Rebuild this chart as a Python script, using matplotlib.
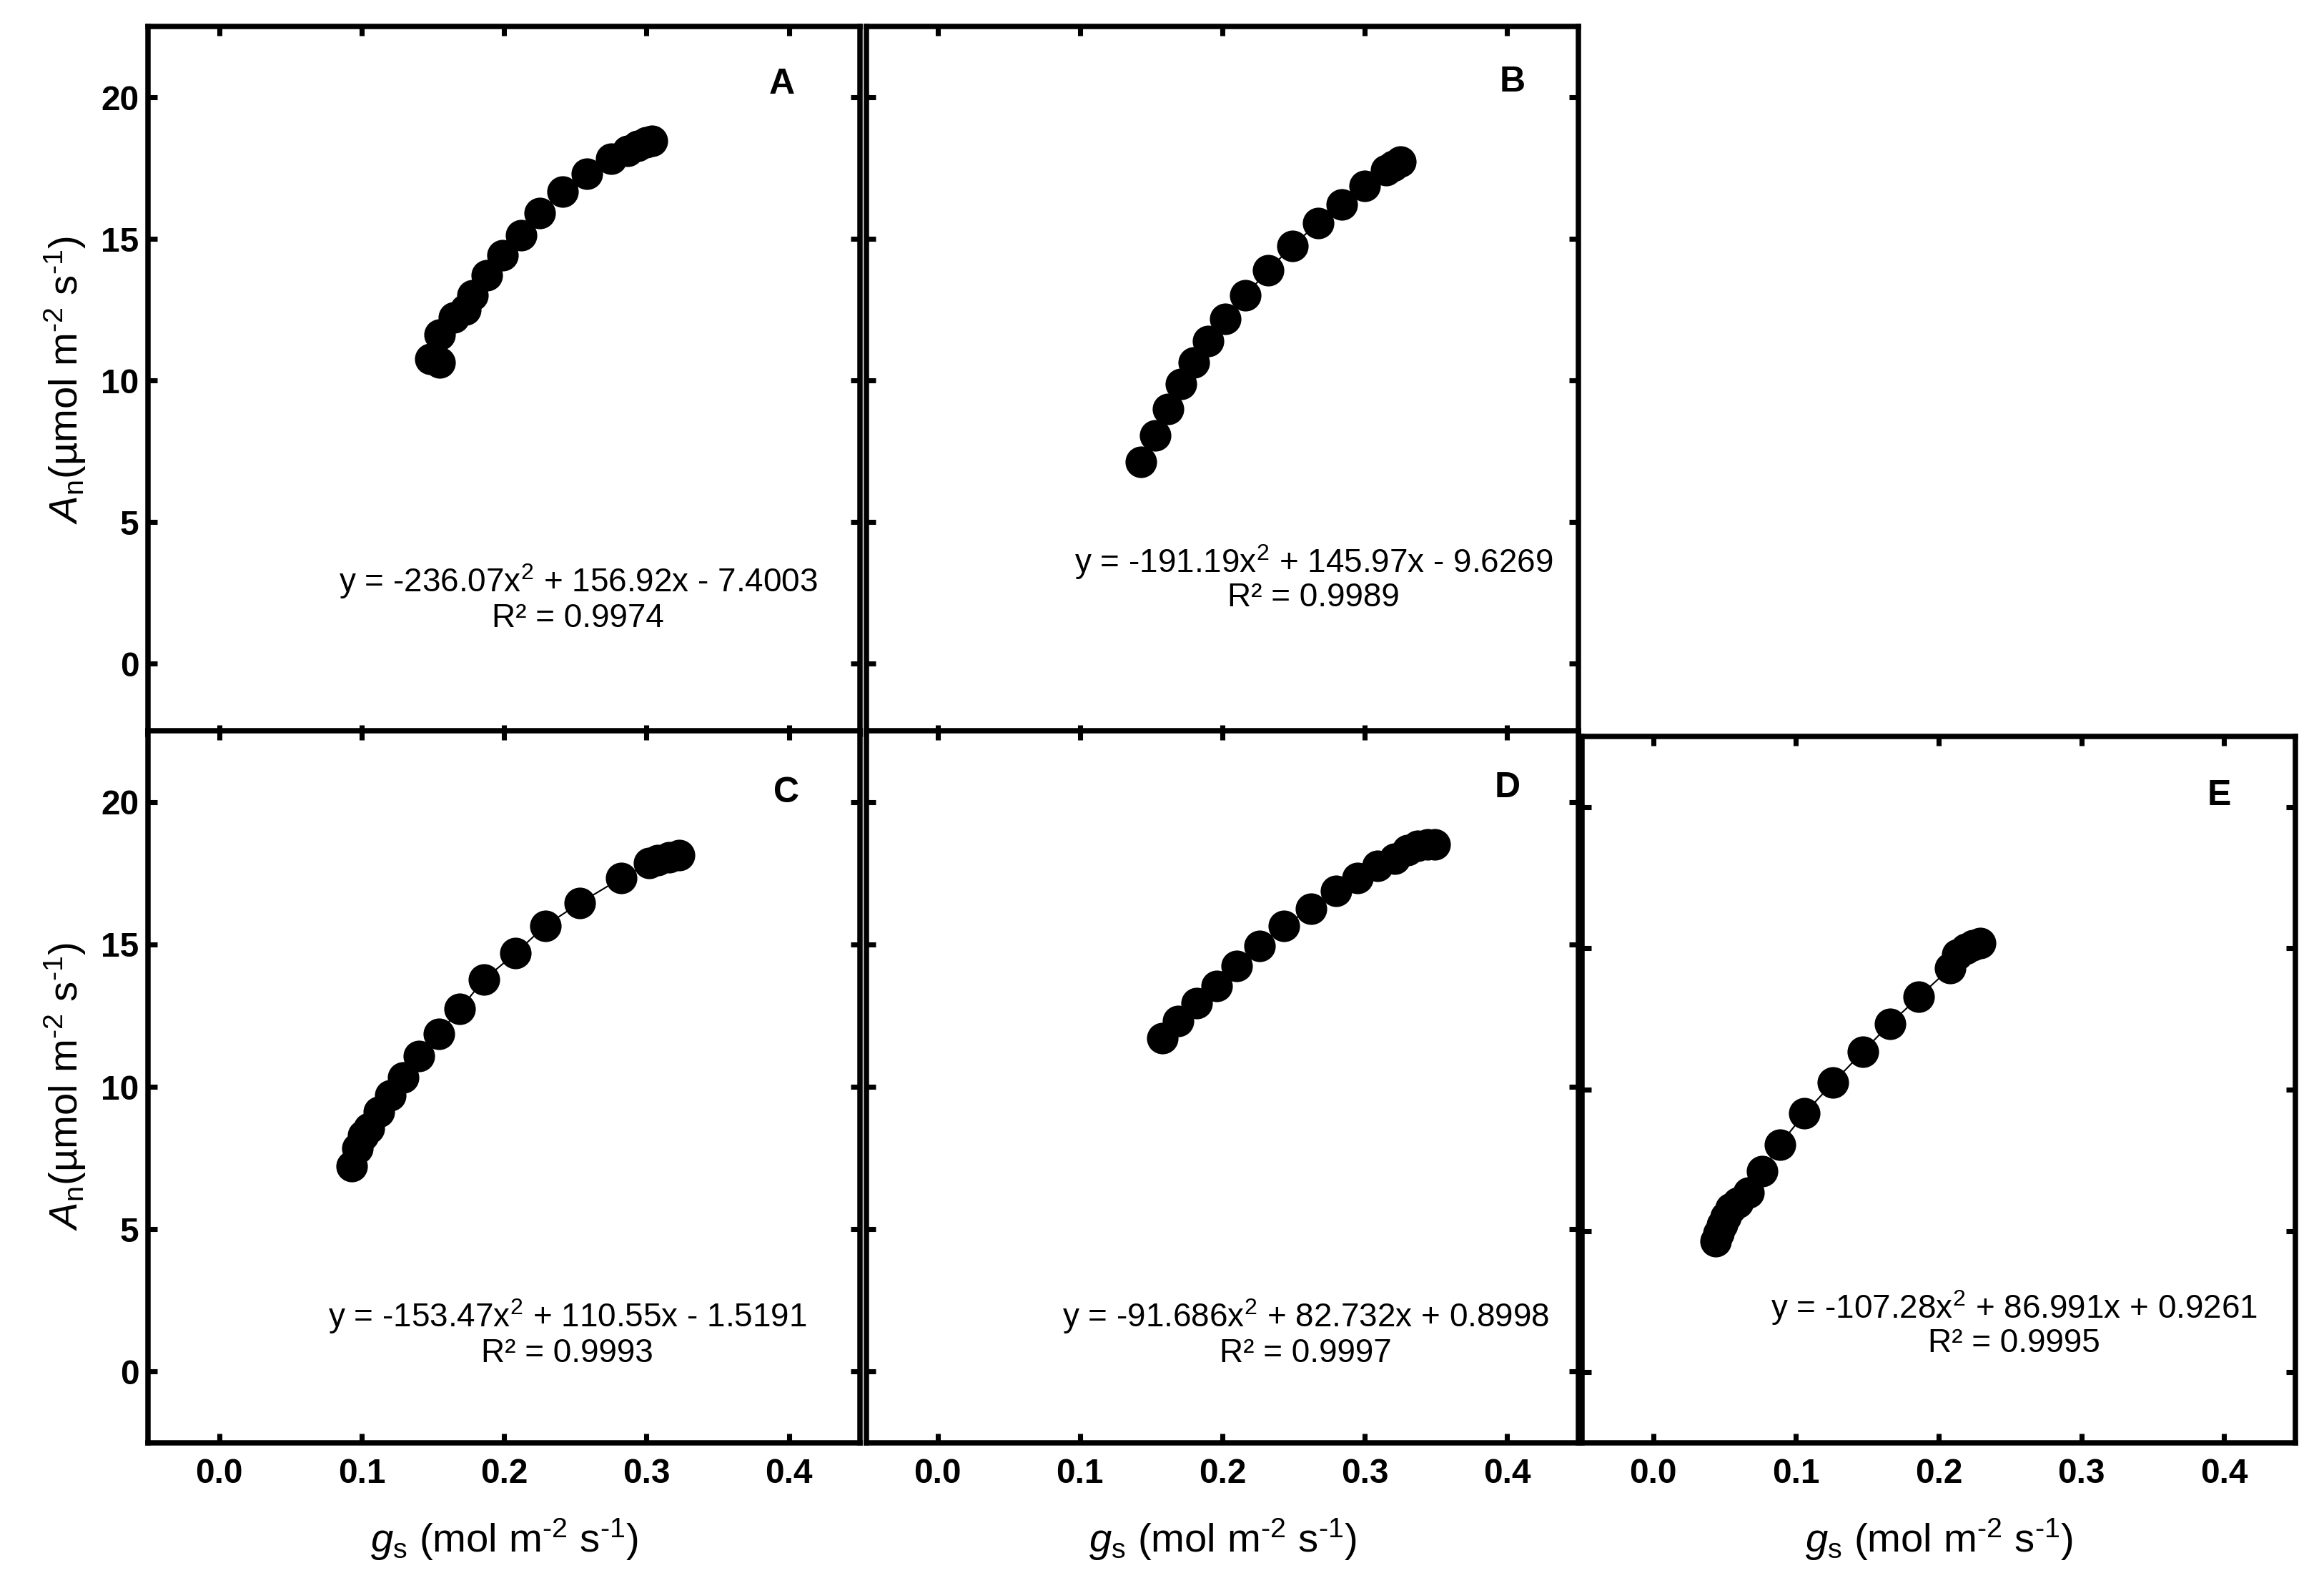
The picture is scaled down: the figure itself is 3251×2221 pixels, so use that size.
import matplotlib
matplotlib.use("Agg")
import matplotlib.pyplot as plt
from matplotlib.ticker import FixedLocator, FormatStrFormatter

plt.rcParams['font.family'] = ['Liberation Sans', 'DejaVu Sans']
plt.rcParams['mathtext.fontset'] = 'custom'
plt.rcParams['mathtext.rm'] = 'Liberation Sans'
plt.rcParams['mathtext.it'] = 'Liberation Sans:italic'
plt.rcParams['mathtext.bf'] = 'Liberation Sans:bold'

# panel A
gs_a = [0.148, 0.155, 0.155, 0.165, 0.173, 0.178, 0.188, 0.199, 0.212, 0.225,
        0.241, 0.258, 0.275, 0.287, 0.294, 0.300, 0.304]
an_a = [10.75, 10.62, 11.62, 12.22, 12.50, 13.00, 13.72, 14.42, 15.13, 15.92,
        16.67, 17.30, 17.83, 18.12, 18.28, 18.42, 18.47]
# panel B
gs_b = [0.143, 0.153, 0.162, 0.171, 0.180, 0.190, 0.202, 0.216, 0.232, 0.249,
        0.267, 0.284, 0.300, 0.315, 0.320, 0.325]
an_b = [7.13, 8.05, 9.00, 9.88, 10.62, 11.38, 12.17, 13.00, 13.88, 14.75,
        15.55, 16.22, 16.88, 17.42, 17.58, 17.72]
# panel C
gs_c = [0.093, 0.097, 0.101, 0.105, 0.112, 0.120, 0.129, 0.140, 0.154, 0.169,
        0.186, 0.208, 0.229, 0.253, 0.282, 0.302, 0.308, 0.316, 0.323]
an_c = [7.21, 7.85, 8.30, 8.54, 9.12, 9.71, 10.33, 11.07, 11.86, 12.73,
        13.77, 14.69, 15.66, 16.45, 17.32, 17.85, 17.95, 18.07, 18.14]
# panel D
gs_d = [0.158, 0.169, 0.182, 0.196, 0.210, 0.226, 0.243, 0.262, 0.280, 0.295,
        0.309, 0.321, 0.330, 0.337, 0.344, 0.349]
an_d = [11.72, 12.30, 12.93, 13.55, 14.24, 14.94, 15.66, 16.25, 16.88, 17.32,
        17.75, 18.00, 18.30, 18.46, 18.50, 18.50]
# panel E
gs_e = [0.0438, 0.0455, 0.048, 0.0505, 0.054, 0.059, 0.0667, 0.0765, 0.0886, 0.106,
        0.126, 0.147, 0.166, 0.186, 0.208, 0.213, 0.219, 0.224, 0.229]
an_e = [4.63, 4.92, 5.21, 5.50, 5.80, 6.00, 6.35, 7.11, 8.05, 9.16,
        10.25, 11.35, 12.34, 13.28, 14.30, 14.79, 14.98, 15.12, 15.18]

letters = ['A', 'B', 'C', 'D', 'E']
equations = ['y = -236.07x$^{2}$ + 156.92x - 7.4003',
             'y = -191.19x$^{2}$ + 145.97x - 9.6269',
             'y = -153.47x$^{2}$ + 110.55x - 1.5191',
             'y = -91.686x$^{2}$ + 82.732x + 0.8998',
             'y = -107.28x$^{2}$ + 86.991x + 0.9261']
r2_texts = ['R² = 0.9974', 'R² = 0.9989', 'R² = 0.9993', 'R² = 0.9997', 'R² = 0.9995']

xticks = [0.0, 0.1, 0.2, 0.3, 0.4]
yticks = [0, 5, 10, 15, 20]

hy = '\u2010'  # plain hyphen in the superscripts, like the original
ylab = r'$\mathit{A}_{\mathrm{n}}$(µmol m$^{' + hy + '2}$ s$^{' + hy + '1}$)'
xlab = r'$\mathit{g}_{\mathrm{s}}$ (mol m$^{' + hy + '2}$ s$^{' + hy + '1}$)'

fig = plt.figure(figsize=(3251 / 300, 2221 / 300), dpi=300)

# [left, bottom, width, height] in figure fraction
boxes = [
    [0.0637, 0.5376, 0.3064, 0.4457],
    [0.3728, 0.5376, 0.3064, 0.4457],
    [0.0637, 0.0914, 0.3064, 0.4484],
    [0.3728, 0.0914, 0.3064, 0.4484],
    [0.6807, 0.0914, 0.3070, 0.4448],
]
eq_pos = [(0.604, 0.216, 0.164), (0.628, 0.2435, 0.193), (0.589, 0.178, 0.1255),
          (0.617, 0.178, 0.1255), (0.606, 0.191, 0.141)]
letter_pos = [(0.89, 0.918), (0.907, 0.921), (0.896, 0.913), (0.90, 0.92), (0.893, 0.916)]

data = [(gs_a, an_a), (gs_b, an_b), (gs_c, an_c), (gs_d, an_d), (gs_e, an_e)]

for i, box in enumerate(boxes):
    ax = fig.add_axes(box)
    x, y = data[i]
    ax.plot(x, y, color='black', lw=0.5, marker='o', markersize=9.6,
            markerfacecolor='black', markeredgecolor='black', zorder=3)
    ax.set_xlim(-0.05, 0.45)
    ax.set_ylim(-2.5, 22.5)
    ax.xaxis.set_major_locator(FixedLocator(xticks))
    ax.yaxis.set_major_locator(FixedLocator(yticks))
    ax.xaxis.set_major_formatter(FormatStrFormatter('%.1f'))
    ax.yaxis.set_major_formatter(FormatStrFormatter('%d'))
    for sp in ax.spines.values():
        sp.set_linewidth(1.8)
    left_lab = i in (0, 2)
    bottom_lab = i in (2, 3, 4)
    ax.tick_params(direction='in', length=3.1, width=1.7, top=True, right=True,
                   labelleft=left_lab, labelbottom=bottom_lab, labelsize=11.5)
    ax.tick_params(axis='y', pad=3)
    ax.tick_params(axis='x', pad=5)
    for lab in ax.get_xticklabels() + ax.get_yticklabels():
        lab.set_fontweight('bold')
    if left_lab:
        ax.set_ylabel(ylab, fontsize=13.5, labelpad=4.5)
    if bottom_lab:
        ax.set_xlabel(xlab, fontsize=13.5, labelpad=9)
    ex, ey1, ey2 = eq_pos[i]
    ax.text(ex, ey1, equations[i], transform=ax.transAxes, ha='center', va='center', fontsize=11)
    ax.text(ex, ey2, r2_texts[i], transform=ax.transAxes, ha='center', va='center', fontsize=11)
    lx, ly = letter_pos[i]
    ax.text(lx, ly, letters[i], transform=ax.transAxes, ha='center', va='center',
            fontsize=12, fontweight='bold')

fig.savefig('out.png', dpi=300)
